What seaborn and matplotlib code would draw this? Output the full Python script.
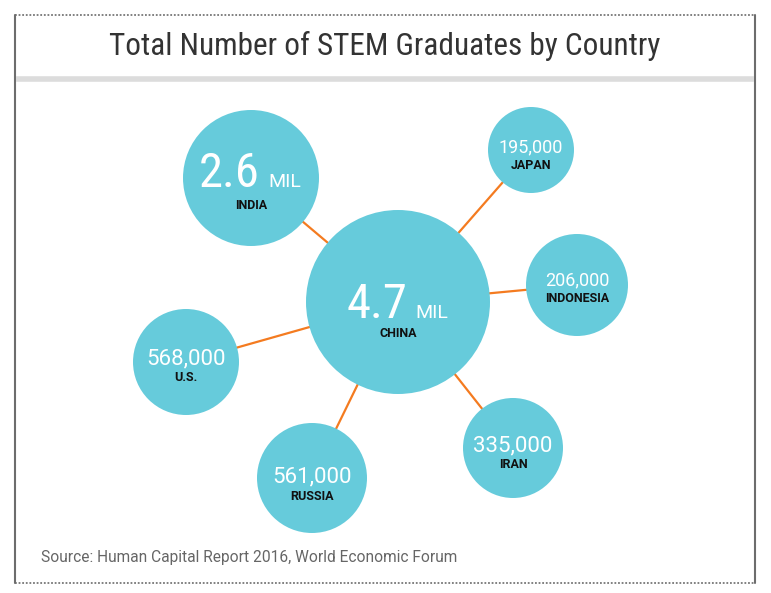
import pandas as pd
import seaborn as sns
import matplotlib.pyplot as plt

# data
countries = ['CHINA', 'INDIA', 'JAPAN', 'INDONESIA', 'IRAN', 'RUSSIA', 'U.S.']
graduates = [4700000, 2600000, 195000, 206000, 335000, 561000, 568000]
value_labels = ['4.7', '2.6', '195,000', '206,000', '335,000', '561,000', '568,000']
title = 'Total Number of STEM Graduates by Country'
source = 'Source: Human Capital Report 2016, World Economic Forum'

# layout of the bubbles (pixels on a 771x593 canvas)
pos_x = [398, 251, 531, 577, 513, 312, 186]
pos_y = [302, 178, 150, 285, 448, 478, 362]
radius = [92, 68, 43, 51, 50, 55, 53]
value_size = [35, 35, 13, 13, 16, 16, 16]
value_base = [16, 9, 2, 0, 3, 4, 2]        # baseline of the value text, below centre
label_base = [35, 31, 19, 17, 20, 22, 19]  # baseline of the country name

df = pd.DataFrame({'country': countries, 'graduates': graduates, 'value': value_labels,
                   'x': pos_x, 'y': pos_y, 'r': radius, 'fs': value_size,
                   'vb': value_base, 'lb': label_base})
# marker area in points^2 from pixel radius (dpi 100)
df['s'] = (2 * df['r'] * 0.72) ** 2

sns.set_style('white')
plt.rcParams['font.family'] = ['Roboto Condensed', 'Roboto', 'DejaVu Sans']
WIDE = ['Roboto', 'DejaVu Sans']

BLUE = '#66cbdb'
ORANGE = '#f47b20'

fig = plt.figure(figsize=(7.71, 5.93), dpi=100)
ax = fig.add_axes([0, 0, 1, 1])
ax.set_xlim(0, 771)
ax.set_ylim(593, 0)
ax.axis('off')

# connectors from China to the others
cx, cy = df.loc[0, 'x'], df.loc[0, 'y']
for _, row in df.iloc[1:].iterrows():
    ax.plot([cx, row['x']], [cy, row['y']], color=ORANGE, lw=1.6, zorder=1)

sns.scatterplot(data=df, x='x', y='y', s=df['s'], color=BLUE, linewidth=0,
                alpha=1, ax=ax, legend=False, zorder=2)

for _, row in df.iterrows():
    if row['graduates'] >= 1000000:
        ax.text(row['x'] + 9, row['y'] + row['vb'], row['value'], ha='right', va='baseline',
                fontsize=row['fs'], color='white', zorder=3)
        ax.text(row['x'] + 17, row['y'] + row['vb'], 'MIL', ha='left', va='baseline',
                fontsize=14, family=WIDE, color='white', zorder=3)
    else:
        ax.text(row['x'], row['y'] + row['vb'], row['value'], ha='center', va='baseline',
                fontsize=row['fs'], family=WIDE, color='white', zorder=3)
    ax.text(row['x'], row['y'] + row['lb'], row['country'], ha='center', va='baseline',
            fontsize=9, fontweight='bold', family=WIDE, color='#111111', zorder=3)

# frame, title band, texts
ax.plot([15, 755], [15, 15], color='#777777', lw=1.3, ls=(0, (1, 1)))
ax.plot([15, 755], [583, 583], color='#777777', lw=1.3, ls=(0, (1, 1)))
ax.plot([15, 15], [15, 583], color='#6d6d6d', lw=1.5)
ax.plot([755, 755], [15, 583], color='#6d6d6d', lw=1.5)
ax.plot([16, 754], [78.5, 78.5], color='#dcdcdc', lw=4, solid_capstyle='butt')

ax.text(385, 55, title, ha='center', va='baseline', fontsize=22.5, color='#333333')
ax.text(41, 562, source, ha='left', va='baseline', fontsize=11.2, family=WIDE, color='#666666')

fig.savefig('out.png', dpi=100)
